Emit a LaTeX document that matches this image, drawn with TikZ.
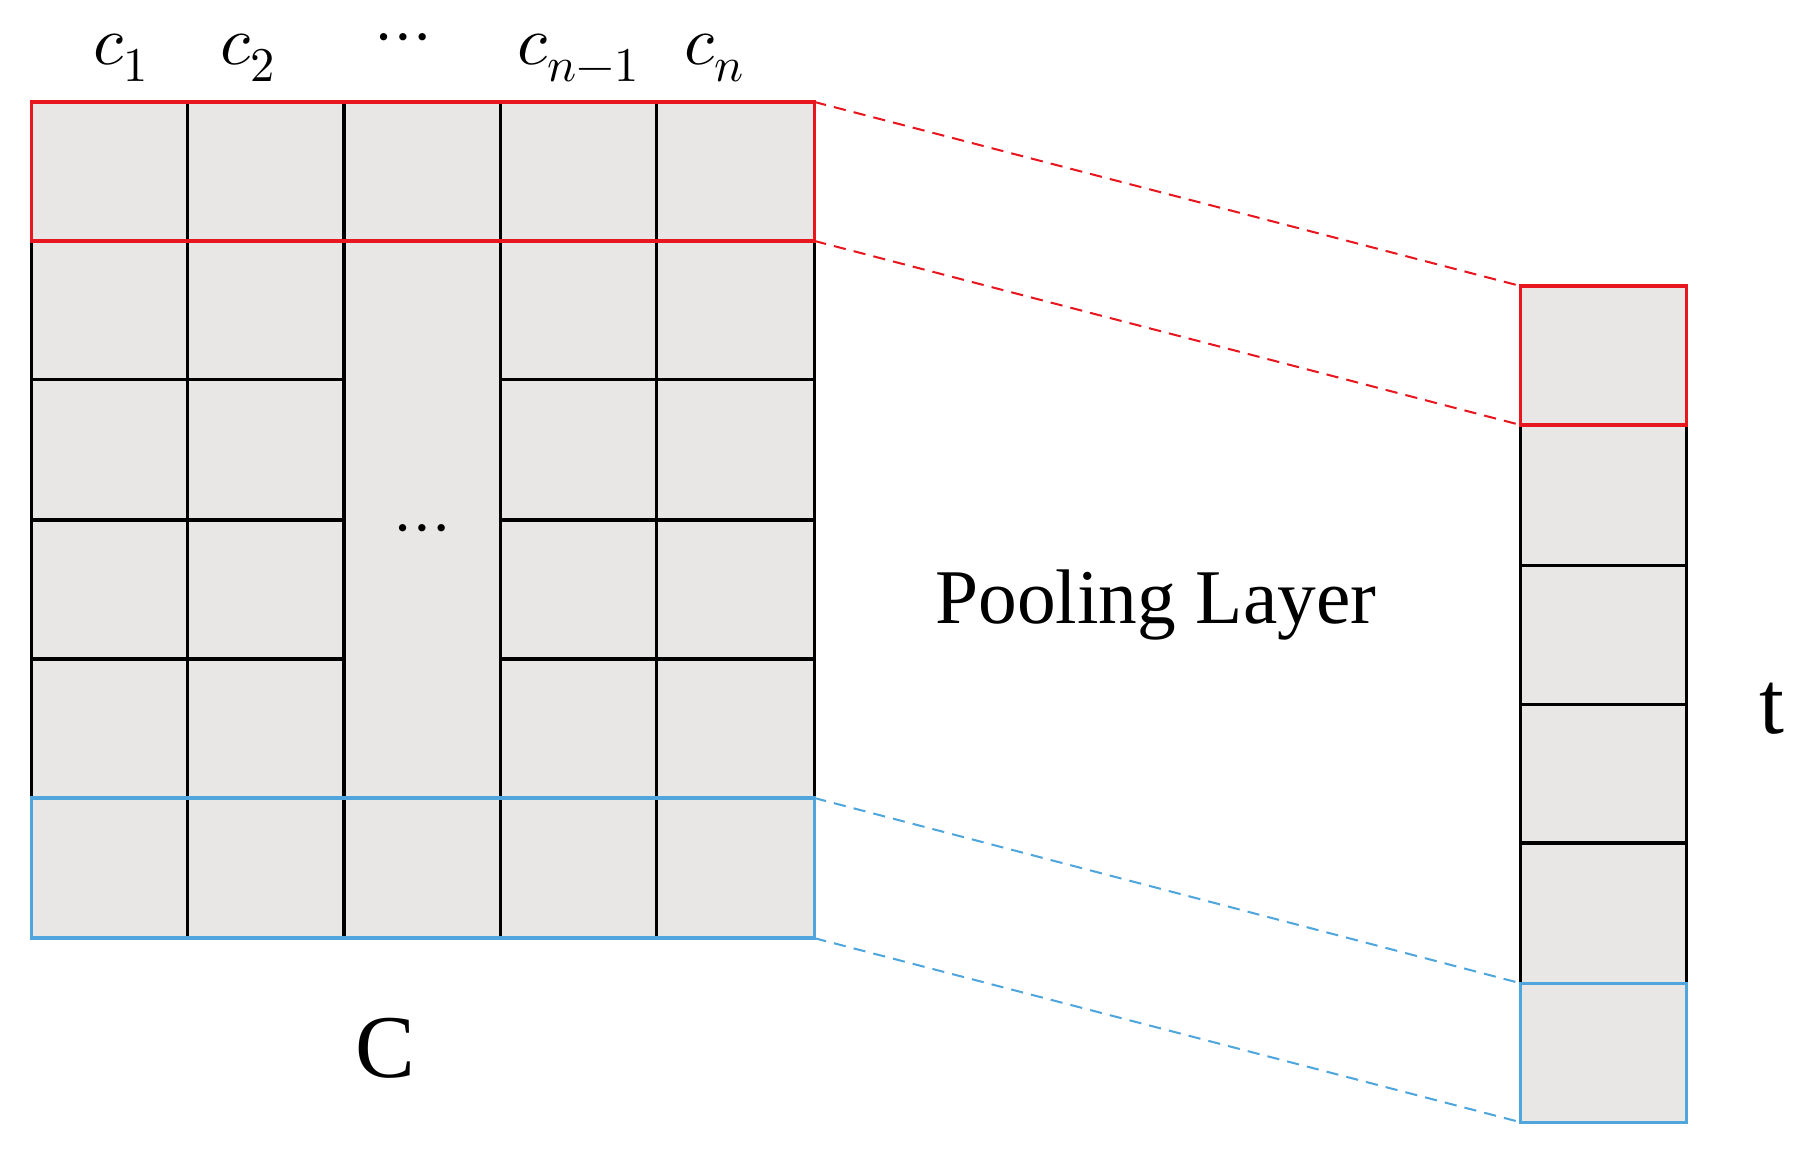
\documentclass[tikz,border=0pt]{standalone}
\usepackage{fontspec}
\setmainfont{Liberation Serif}
\usepackage{unicode-math}
\begin{document}
\begin{tikzpicture}[x=0.01cm,y=-0.01cm,
  lbl/.style={font=\fontsize{17}{20}\selectfont},
  big/.style={font=\fontsize{22}{26}\selectfont},
  dsh/.style={dashed,line width=0.5pt,dash pattern=on 3pt off 2pt}]
\definecolor{cellgray}{HTML}{E8E7E6}
\definecolor{myred}{HTML}{E8161E}
\definecolor{myblue}{HTML}{4EA6DC}
\useasboundingbox (0,0) rectangle (1568,998);
% matrix
\fill[cellgray] (27,88) rectangle (703,810);
\foreach \x in {162,297,432,567} \draw[line width=0.8pt] (\x,88) -- (\x,810);
\foreach \y in {328,449,569} {\draw[line width=0.8pt] (27,\y) -- (297,\y); \draw[line width=0.8pt] (432,\y) -- (703,\y);}
\draw[line width=0.8pt] (27,208) -- (27,689) (703,208) -- (703,689);
\draw[myred,line width=0.8pt] (27,88) rectangle (703,208);
\draw[myblue,line width=0.8pt] (27,689) rectangle (703,810);
% vector
\fill[cellgray] (1313,247) rectangle (1456,969);
\foreach \y in {488,608,728} \draw[line width=0.8pt] (1313,\y) -- (1456,\y);
\draw[line width=0.8pt] (1313,367) -- (1313,849) (1456,367) -- (1456,849);
\draw[myred,line width=0.8pt] (1313,247) rectangle (1456,367);
\draw[myblue,line width=0.8pt] (1313,849) rectangle (1456,969);
% connectors
\coordinate (a1) at (703,88); \coordinate (b1) at (1313,247);
\coordinate (a2) at (703,208); \coordinate (b2) at (1313,367);
\coordinate (a3) at (703,689); \coordinate (b3) at (1313,849);
\coordinate (a4) at (703,810); \coordinate (b4) at (1313,969);
\draw[dsh,myred] (a1) -- (b1) (a2) -- (b2);
\draw[dsh,myblue] (a3) -- (b3) (a4) -- (b4);
% labels
\node[lbl] (l1) at (105,50) {$c_1$};
\node[lbl] (l2) at (215,50) {$c_2$};
\node[lbl] (l3) at (348,38) {$\cdots$};
\node[lbl] (l4) at (500,50) {$c_{n-1}$};
\node[lbl] (l5) at (617,50) {$c_n$};
\node[lbl] (l6) at (365,462) {$\cdots$};
\node[font=\fontsize{19}{23}\selectfont] (pl) at (998,522) {Pooling Layer};
\node[big] (C) at (333,905) {C};
\node[big] (t) at (1530,612) {t};
\end{tikzpicture}
\end{document}
